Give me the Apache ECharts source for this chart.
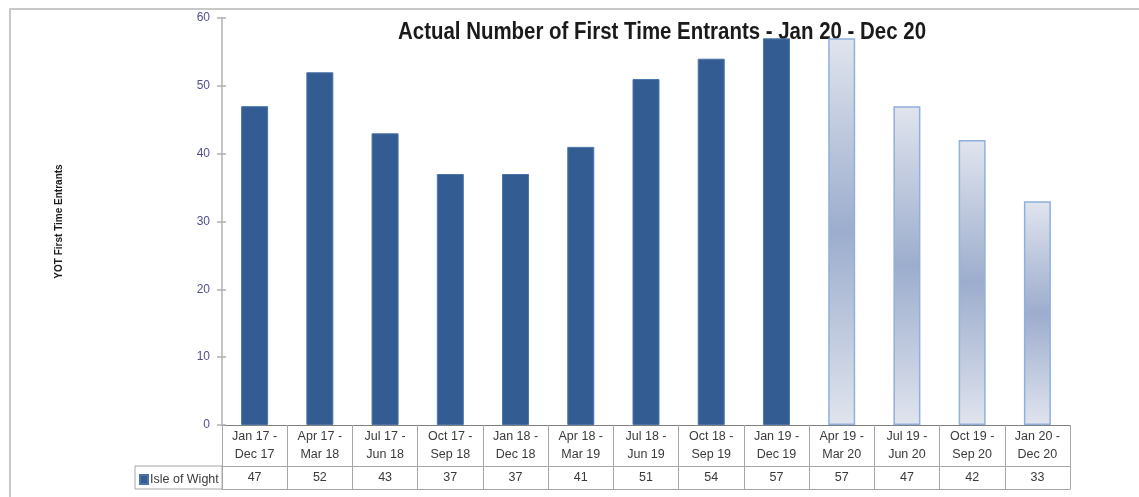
<!DOCTYPE html>
<html>
<head>
<meta charset="utf-8">
<script src="https://cdn.jsdelivr.net/npm/echarts@6/dist/echarts.min.js"></script>
<style>
  html, body { margin: 0; padding: 0; background: #ffffff; }
  #chart { width: 1139px; height: 497px; }
</style>
</head>
<body>
<div id="chart"></div>
<script>
// Rolling 12-month periods and first time entrant counts
const categories = [
  'Jan 17 -\nDec 17', 'Apr 17 -\nMar 18', 'Jul 17 -\nJun 18', 'Oct 17 -\nSep 18',
  'Jan 18 -\nDec 18', 'Apr 18 -\nMar 19', 'Jul 18 -\nJun 19', 'Oct 18 -\nSep 19',
  'Jan 19 -\nDec 19', 'Apr 19 -\nMar 20', 'Jul 19 -\nJun 20', 'Oct 19 -\nSep 20',
  'Jan 20 -\nDec 20'
];
const values = [47, 52, 43, 37, 37, 41, 51, 54, 57, 57, 47, 42, 33];
// the later periods are drawn with the shaded (hollow) style
const shadedFrom = 9;
const seriesName = 'Isle of Wight';
const titleText = 'Actual Number of First Time Entrants - Jan 20 - Dec 20';
const yTicks = { min: 0, max: 60, interval: 10 };

const GRID = { left: 222, right: 69, top: 18, bottom: 72 };
const ROW1 = 41;   // height of the period-label row
const ROW2 = 23;   // height of the value row
const LINE = '#a6a6a6';
const SOLID = '#335d92';

const chart = echarts.init(document.getElementById('chart'));

// Title is set in a bold sans, squeezed horizontally to a condensed width
const TITLE_FONT = 'bold 23px "Liberation Sans", Arial, sans-serif';
const TITLE_WIDTH = 528;
const measureCtx = document.createElement('canvas').getContext('2d');
measureCtx.font = TITLE_FONT;
const titleScaleX = TITLE_WIDTH / measureCtx.measureText(titleText).width;

const shadedStyle = {
  color: new echarts.graphic.LinearGradient(0, 0, 0, 1, [
    { offset: 0, color: '#e0e4ee' },
    { offset: 0.5, color: '#9cadcd' },
    { offset: 1, color: '#e0e4ee' }
  ]),
  borderColor: '#8fb0dc',
  borderWidth: 1.5
};

const barData = values.map((v, i) => i >= shadedFrom
  ? { value: v, itemStyle: shadedStyle }
  : v);

const fontTable = { fontFamily: 'Liberation Sans', fontSize: 12.5, color: '#3a3a3a' };

const H = 497;
const rowTop = H - GRID.bottom + ROW1;

const option = {
  animation: false,
  backgroundColor: '#ffffff',
  legend: {
    data: [seriesName],
    left: 139,
    top: rowTop + 7,
    orient: 'horizontal',
    icon: 'rect',
    itemWidth: 8,
    itemHeight: 9,
    itemGap: 4,
    padding: 0,
    selectedMode: false,
    textStyle: { fontFamily: 'Liberation Sans', fontSize: 12.5, color: '#3a3a3a', padding: [0, 0, 0, -3] }
  },
  grid: { left: GRID.left, right: GRID.right, top: GRID.top, bottom: GRID.bottom, containLabel: false },
  xAxis: [
    {
      type: 'category',
      data: categories,
      position: 'bottom',
      axisLine: { show: true, onZero: false, lineStyle: { color: '#7f7f7f', width: 1 } },
      axisTick: { show: true, length: ROW1, interval: 0, lineStyle: { color: LINE, width: 1 } },
      axisLabel: { interval: 0, margin: 3, lineHeight: 17.5, ...fontTable }
    },
    {
      type: 'category',
      data: categories,
      position: 'bottom',
      offset: ROW1,
      axisLine: { show: true, onZero: false, lineStyle: { color: LINE, width: 1 } },
      axisTick: { show: false },
      axisLabel: {
        interval: 0, margin: 5, ...fontTable,
        formatter: (v, i) => String(values[i])
      }
    },
    {
      type: 'category',
      data: categories,
      position: 'bottom',
      offset: ROW1 + ROW2,
      axisLine: { show: true, onZero: false, lineStyle: { color: LINE, width: 1 } },
      axisTick: { show: true, inside: true, length: ROW2, interval: 0, lineStyle: { color: LINE, width: 1 } },
      axisLabel: { show: false }
    }
  ],
  yAxis: [
    {
      type: 'value',
      min: yTicks.min, max: yTicks.max, interval: yTicks.interval,
      name: 'YOT First Time Entrants',
      nameLocation: 'middle',
      nameRotate: 90,
      nameGap: 158,
      nameTextStyle: { fontFamily: 'Liberation Sans', fontWeight: 'bold', fontSize: 10, color: '#1a1a1a' },
      axisLine: { show: true, lineStyle: { color: '#c4c4c4', width: 2 } },
      axisTick: { show: true, length: 5, lineStyle: { color: '#b0b0b0', width: 1.5 } },
      axisLabel: { margin: 12, fontFamily: 'Liberation Sans', fontSize: 12, color: '#50508e' },
      splitLine: { show: false }
    },
    {
      type: 'value',
      position: 'left',
      min: yTicks.min, max: yTicks.max, interval: yTicks.interval,
      axisLine: { show: false },
      axisTick: { show: true, inside: true, length: 4, lineStyle: { color: '#b0b0b0', width: 1.5 } },
      axisLabel: { show: false },
      splitLine: { show: false }
    }
  ],
  series: [
    {
      name: seriesName,
      type: 'bar',
      xAxisIndex: 0,
      yAxisIndex: 0,
      barWidth: 27,
      data: barData,
      itemStyle: { color: SOLID, borderColor: '#4a74a8', borderWidth: 1 }
    }
  ],
  graphic: [
    {
      // outer frame
      type: 'rect', z: -1, silent: true,
      shape: { x: 10, y: 9, width: 1400, height: 800 },
      style: { fill: 'none', stroke: '#c8c8c8', lineWidth: 2 }
    },
    {
      // legend cell of the value row
      type: 'rect', silent: true,
      shape: { x: 135, y: rowTop, width: GRID.left - 135, height: ROW2 },
      style: { fill: 'none', stroke: LINE, lineWidth: 1 }
    },
    {
      type: 'text', silent: true,
      x: 662, y: 33,
      scaleX: titleScaleX,
      style: {
        text: titleText,
        font: TITLE_FONT,
        fill: '#1a1a1a',
        align: 'center',
        verticalAlign: 'middle'
      }
    }
  ]
};

chart.setOption(option);
</script>
</body>
</html>
